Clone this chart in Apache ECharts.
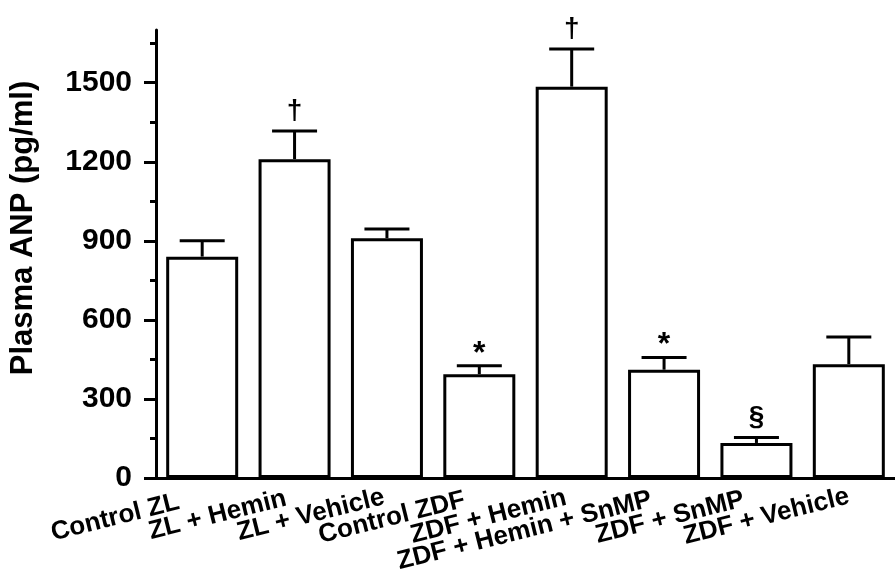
<!DOCTYPE html>
<html><head><meta charset="utf-8">
<script src="https://cdn.jsdelivr.net/npm/echarts@6/dist/echarts.min.js"></script>
<style>html,body{margin:0;padding:0;background:#fff}#c{width:895px;height:586px}</style>
</head><body><div id="c"></div>
<script>
const categories = ['Control ZL','ZL + Hemin','ZL + Vehicle','Control ZDF','ZDF + Hemin','ZDF + Hemin + SnMP','ZDF + SnMP','ZDF + Vehicle'];
const means = [840, 1210, 910, 394, 1485, 411, 133, 432];
const sems = [60, 107, 35, 32, 143, 46, 21, 103];
const marks = ['', '\u2020', '', '*', '\u2020', '*', '\u00a7', ''];
const majorTicks = [0, 300, 600, 900, 1200, 1500];
const minorTicks = [150, 450, 750, 1050, 1350, 1650];

// layout tweak: how far each category label is pulled left along its baseline
const labelShift = [24, 9, 3, 15, 6, 13, 13, 0];

const FONT = 'Liberation Sans';
const chart = echarts.init(document.getElementById('c'));
chart.setOption({
  animation: false,
  grid: {left: 154, top: 30, width: 756, bottom: 108, containLabel: false},
  xAxis: {
    type: 'category',
    data: categories.map((c, i) => ({value: c, textStyle: {padding: [0, labelShift[i], 0, 0]}})),
    axisLine: {lineStyle: {color: '#000', width: 3}},
    axisTick: {show: false},
    axisLabel: {interval: 0, rotate: 14, margin: 18, color: '#000', fontFamily: FONT, fontWeight: 'bold', fontSize: 26}
  },
  yAxis: [{
    type: 'value', min: 0, max: 1700,
    name: 'Plasma ANP (pg/ml)', nameLocation: 'middle', nameGap: 117,
    nameTextStyle: {color: '#000', fontFamily: FONT, fontWeight: 'bold', fontSize: 31, padding: [0, 0, 0, 52]},
    axisLine: {show: true, lineStyle: {color: '#000', width: 3}},
    axisTick: {show: true, length: 12, lineStyle: {color: '#000', width: 3}, customValues: majorTicks},
    axisLabel: {color: '#000', fontFamily: FONT, fontWeight: 'bold', fontSize: 30, margin: 24, customValues: majorTicks, formatter: v => String(v)},
    splitLine: {show: false}
  }, {
    type: 'value', min: 0, max: 1700, position: 'left',
    axisLine: {show: false},
    axisTick: {show: true, length: 6, lineStyle: {color: '#000', width: 3}, customValues: minorTicks},
    axisLabel: {show: false},
    splitLine: {show: false}
  }],
  series: [{
    type: 'bar', data: means, barWidth: 72,
    itemStyle: {color: '#fff', borderColor: '#000', borderWidth: 3}
  }, {
    type: 'custom',
    data: means.map((m, i) => [i, m, m + sems[i]]),
    renderItem: function (params, api) {
      const i = api.value(0);
      const base = api.coord([i, api.value(1)]);
      const top = api.coord([i, api.value(2)]);
      const children = [
        {type: 'line', shape: {x1: base[0], y1: base[1], x2: top[0], y2: top[1]}, style: {stroke: '#000', lineWidth: 3}},
        {type: 'line', shape: {x1: top[0] - 22.5, y1: top[1], x2: top[0] + 22.5, y2: top[1]}, style: {stroke: '#000', lineWidth: 3}}
      ];
      const mk = marks[params.dataIndex];
      if (mk) {
        const star = mk === '*';
        children.push({type: 'text', style: {text: mk, x: top[0], y: top[1] + (star ? 4 : -6), align: 'center', verticalAlign: 'bottom', fill: '#000', font: 'bold ' + (star ? 32 : 28) + 'px "Liberation Sans"'}});
      }
      return {type: 'group', children: children};
    },
    z: 3
  }]
});
</script>
</body></html>
